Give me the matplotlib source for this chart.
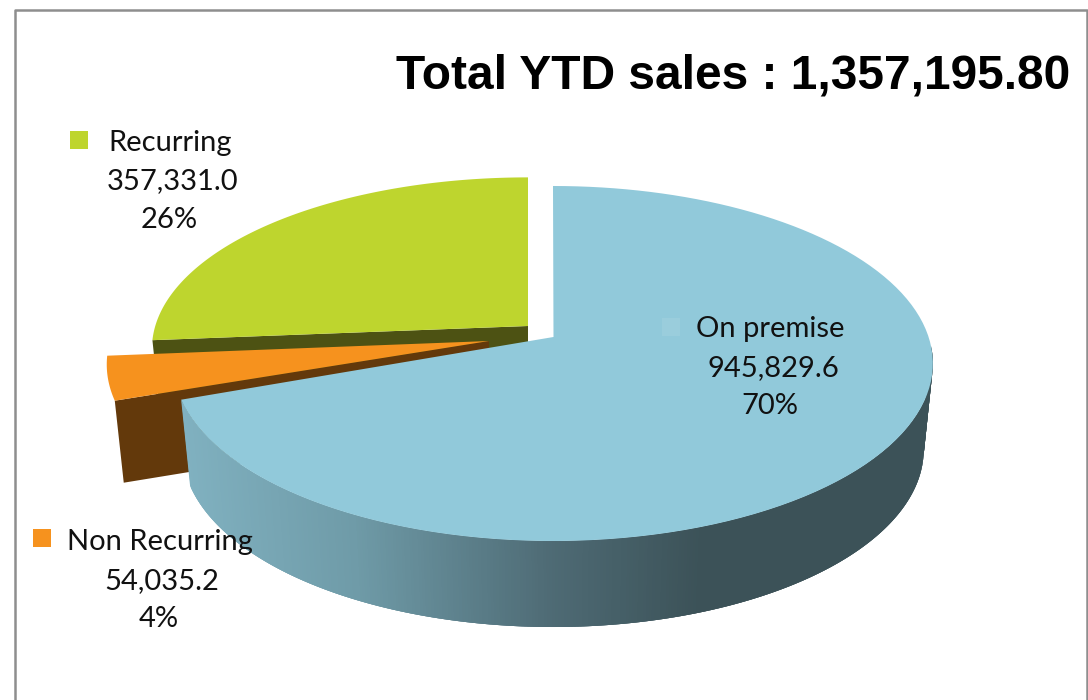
import numpy as np
import matplotlib
matplotlib.use("Agg")
import matplotlib.pyplot as plt
from matplotlib.collections import PolyCollection
from matplotlib.colors import LinearSegmentedColormap
from matplotlib.patches import Polygon, Rectangle

plt.rcParams["path.simplify"] = False

categories = ["On premise", "Non Recurring", "Recurring"]
sales = [945829.6, 54035.2, 357331.0]
percent_labels = ["70%", "4%", "26%"]
total_label = "1,357,195.80"

# pie geometry, in pixels of the picture
RADIUS = 376.5
FLATTEN = 174.4
TILT = 0.1324
BOTTOM_SCALE = 0.976
centers = [(553, 340), (488.5, 341), (528, 326)]
apexes = [(553.5, 337), (489, 341), (528, 326)]
x_scale = [1.0, 1.005, 0.99]
y_scale = [1.0, 1.0, 0.965]
depths = [86, 82, 86]

top_colors = ["#91C9DA", "#F6921E", "#BED52E"]
cut_colors = ["#3C5258", "#63390B", "#4D5213"]


def project(angle, i, bottom=False):
    # angle is degrees clockwise from 12 o'clock
    u = np.sin(np.radians(angle))
    v = np.cos(np.radians(angle))
    scale = 1 + TILT * v
    x = RADIUS * x_scale[i] * u / scale
    y = -FLATTEN * y_scale[i] * v / scale
    if bottom:
        return centers[i][0] + x * BOTTOM_SCALE, centers[i][1] + y + depths[i]
    return centers[i][0] + x, centers[i][1] + y


def sector(start, end, i):
    angles = np.linspace(start, end, 120)
    x, y = project(angles, i)
    return np.vstack([[apexes[i]], np.column_stack([x, y])])


def cut_face(angle, i):
    x, y = project(angle, i)
    bx, by = project(angle, i, bottom=True)
    low = (apexes[i][0], apexes[i][1] + depths[i])
    return [apexes[i], (x, y), (bx, by), low]


fig = plt.figure(figsize=(10.88, 7), dpi=100)
ax = fig.add_axes([0, 0, 1, 1])

# frame, open at the bottom
ax.plot([15, 15, 1087, 1087], [700, 10, 10, 700], color="#8E8E8E", lw=1.8, zorder=1)

edges = np.cumsum([0] + sales) / sum(sales) * 360

# green slice: only the cut face at its start shows
ax.add_patch(Polygon(cut_face(edges[2], 2), color=cut_colors[2], lw=0, zorder=2))
ax.add_patch(Polygon(sector(edges[2], edges[3], 2), color=top_colors[2], lw=0, zorder=3))

# orange slice: cut face along the blue one and the rim
ax.add_patch(Polygon(cut_face(edges[1], 1), color=cut_colors[1], lw=0, zorder=4))
ax.add_patch(Polygon(sector(edges[1], edges[2], 1), color=top_colors[1], lw=0, zorder=5))

# blue rim, shaded from left to right; each quad overlaps the next so no seams show
shade = LinearSegmentedColormap.from_list(
    "rim", [(0, "#3C5258"), (0.3, "#4F6C76"), (0.67, "#6F9BA8"), (1, "#80B1C0")]
)
rim_angles = np.linspace(92, edges[1], 400)
top_x, top_y = project(rim_angles, 0)
low_x, low_y = project(rim_angles, 0, bottom=True)
quads = []
quad_colors = []
for i in range(len(rim_angles) - 3):
    quads.append([(top_x[i], top_y[i]), (top_x[i + 3], top_y[i + 3]),
                  (low_x[i + 3], low_y[i + 3]), (low_x[i], low_y[i])])
    quad_colors.append(shade(np.clip((700 - low_x[i]) / (700 - 190), 0, 1)))
ax.add_collection(PolyCollection(quads, facecolors=quad_colors, edgecolors="none", zorder=6))
ax.add_patch(Polygon(sector(edges[0], edges[1], 0), color=top_colors[0], lw=0, zorder=7))

# title
ax.text(1070, 76, "Total YTD sales : " + total_label, family="Liberation Sans",
        weight="bold", fontsize=34.45, ha="right", va="center", color="black", zorder=10)

# data labels: name, value, percent
label_font = {"family": "Lato", "fontsize": 21, "color": "#111111", "zorder": 10}
name_pos = [(696, 329), (67, 542), (108, 143)]
value_pos = [(773, 368), (162, 581), (173, 181)]
percent_pos = [(770, 406), (159, 619), (169, 220)]
key_pos = [(662, 318), (33, 529), (70, 131)]
for i in range(len(categories)):
    ax.text(*name_pos[i], categories[i], ha="left", va="center", **label_font)
    ax.text(*value_pos[i], f"{sales[i]:,.1f}", ha="center", va="center", **label_font)
    ax.text(*percent_pos[i], percent_labels[i], ha="center", va="center", **label_font)
    key_color = "#9ACDDC" if i == 0 else top_colors[i]
    ax.add_patch(Rectangle(key_pos[i], 18, 18, color=key_color, lw=0, zorder=9))

ax.set_xlim(0, 1088)
ax.set_ylim(700, 0)
ax.axis("off")

fig.savefig("out.png", dpi=100, facecolor="white")
